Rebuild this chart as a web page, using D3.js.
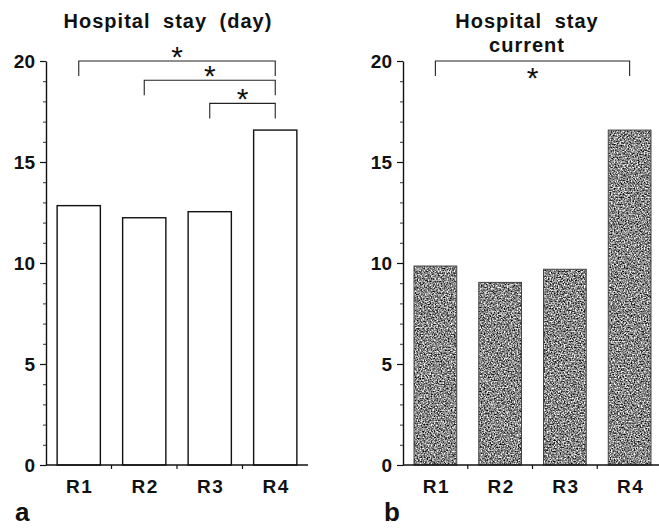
<!DOCTYPE html>
<html>
<head>
<meta charset="utf-8">
<script src="https://cdn.jsdelivr.net/npm/d3@7"></script>
<style>
  html, body { margin: 0; padding: 0; background: #fff; }
  svg { display: block; }
  text { font-family: "Liberation Sans", Arial, Helvetica, sans-serif; fill: #111; }
</style>
</head>
<body>
<svg id="chart" width="659" height="529"></svg>
<script>
// ---- data ----
const categories = ["R1", "R2", "R3", "R4"];
const stayDay = [12.84, 12.24, 12.54, 16.58];
const stayCurrent = [9.85, 9.04, 9.69, 16.58];
const yTicks = [0, 5, 10, 15, 20];
const titleA = ["Hospital stay (day)"];
const titleB = ["Hospital stay", "current"];
const bracketsA = [
  { from: "R1", to: "R4", level: 20.0, label: "*" },
  { from: "R2", to: "R4", level: 19.05, label: "*" },
  { from: "R3", to: "R4", level: 17.9, label: "*" }
];
const bracketsB = [
  { from: "R1", to: "R4", level: 20.0, label: "*" }
];
const panelLetters = ["a", "b"];

const svg = d3.select("#chart");
const defs = svg.append("defs");
const f = defs.append("filter").attr("id", "grain")
  .attr("x", 0).attr("y", 0).attr("width", 1).attr("height", 1)
  .attr("filterUnits", "objectBoundingBox")
  .attr("color-interpolation-filters", "sRGB");
f.append("feTurbulence").attr("type", "fractalNoise").attr("baseFrequency", 0.7)
  .attr("numOctaves", 2).attr("seed", 7).attr("result", "n");
f.append("feColorMatrix").attr("in", "n").attr("type", "matrix")
  .attr("values", "1.9 0 0 0 -0.42  1.9 0 0 0 -0.42  1.9 0 0 0 -0.42  0 0 0 0 1")
  .attr("result", "g");
f.append("feComposite").attr("in", "g").attr("in2", "SourceGraphic").attr("operator", "in");

function panel(opts) {
  const { x0, x1, values, titles, titleX, brackets, filled, letter, letterX, starBelow } = opts;
  const yTop = 61, yBot = 465;
  const y = d3.scaleLinear().domain([0, 20]).range([yBot, yTop]);
  const x = d3.scaleBand().domain(categories).range([x0, x1]).paddingInner(0.34).paddingOuter(0.17);
  const g = svg.append("g");

  // bars
  const bars = g.selectAll("g.bar").data(categories.map((c, i) => ({ c, v: values[i] })))
    .join("g").attr("class", "bar");
  if (filled) {
    bars.append("rect")
      .attr("x", d => x(d.c)).attr("y", d => y(d.v))
      .attr("width", x.bandwidth()).attr("height", d => yBot - y(d.v))
      .attr("fill", "#888").attr("filter", "url(#grain)");
    bars.append("rect")
      .attr("x", d => x(d.c)).attr("y", d => y(d.v))
      .attr("width", x.bandwidth()).attr("height", d => yBot - y(d.v))
      .attr("fill", "none").attr("stroke", "#444").attr("stroke-width", 1);
  } else {
    bars.append("rect")
      .attr("x", d => x(d.c)).attr("y", d => y(d.v))
      .attr("width", x.bandwidth()).attr("height", d => yBot - y(d.v))
      .attr("fill", "#fff").attr("stroke", "#111").attr("stroke-width", 1.4);
  }

  // y axis
  const yAx = g.append("g").attr("transform", `translate(${x0},0)`)
    .call(d3.axisLeft(y).tickValues(yTicks).tickSize(6).tickSizeOuter(0).tickPadding(5));
  yAx.select(".domain").attr("stroke", "#111").attr("stroke-width", 1.4);
  yAx.selectAll(".tick line").attr("stroke", "#111").attr("stroke-width", 1.2);
  yAx.selectAll(".tick text").attr("font-size", 19).attr("font-family", "Liberation Sans, Arial, sans-serif")
    .style("font-weight", "bold").attr("fill", "#111");
  const minor = d3.range(0, 21).filter(v => v % 5 !== 0);
  const yMin = g.append("g").attr("transform", `translate(${x0},0)`)
    .call(d3.axisLeft(y).tickValues(minor).tickSize(3).tickFormat(""));
  yMin.select(".domain").remove();
  yMin.selectAll(".tick line").attr("stroke", "#333").attr("stroke-width", 1);

  // x axis
  g.append("line").attr("x1", x0).attr("x2", x1).attr("y1", yBot).attr("y2", yBot)
    .attr("stroke", "#111").attr("stroke-width", 1.4);
  const gap = x.step() * x.paddingInner();
  g.selectAll("line.xt").data(categories.slice(1)).join("line").attr("class", "xt")
    .attr("x1", d => x(d) - gap / 2).attr("x2", d => x(d) - gap / 2)
    .attr("y1", yBot).attr("y2", yBot + 4).attr("stroke", "#111").attr("stroke-width", 1.2);
  g.selectAll("text.cat").data(categories).join("text").attr("class", "cat")
    .attr("x", d => x(d) + x.bandwidth() / 2 + 1).attr("y", yBot + 28)
    .attr("text-anchor", "middle").attr("font-size", 19).style("font-weight", "bold")
    .style("letter-spacing", "1.5px").text(d => d);

  // titles
  g.selectAll("text.title").data(titles).join("text").attr("class", "title")
    .attr("x", titleX).attr("y", (d, i) => 28 + i * 24)
    .attr("text-anchor", "middle").attr("font-size", 20).style("font-weight", "bold")
    .style("letter-spacing", "1px").style("word-spacing", "6px").text(d => d);

  // brackets
  const drop = 15;
  brackets.forEach(b => {
    const xa = x(b.from) + x.bandwidth() / 2, xb = x(b.to) + x.bandwidth() / 2;
    const yy = y(b.level);
    g.append("path")
      .attr("d", `M${xa},${yy + drop}V${yy}H${xb}V${yy + drop}`)
      .attr("fill", "none").attr("stroke", "#222").attr("stroke-width", 1.1);
    const cy = starBelow ? yy + 12 : yy - 9;
    g.append("text").attr("x", (xa + xb) / 2).attr("y", cy + 15)
      .attr("text-anchor", "middle").attr("font-size", 30).style("font-weight", "normal")
      .attr("font-family", "DejaVu Sans, sans-serif")
      .text(b.label);
  });

  // panel letter
  g.append("text").attr("x", letterX).attr("y", 521).attr("font-size", 26)
    .style("font-weight", "bold").text(letter);
}

panel({ x0: 46, x1: 308, values: stayDay, titles: titleA, titleX: 168, brackets: bracketsA,
  filled: false, letter: panelLetters[0], letterX: 15, starBelow: false });
panel({ x0: 403, x1: 662, values: stayCurrent, titles: titleB, titleX: 527, brackets: bracketsB,
  filled: true, letter: panelLetters[1], letterX: 384, starBelow: true });
</script>
</body>
</html>
